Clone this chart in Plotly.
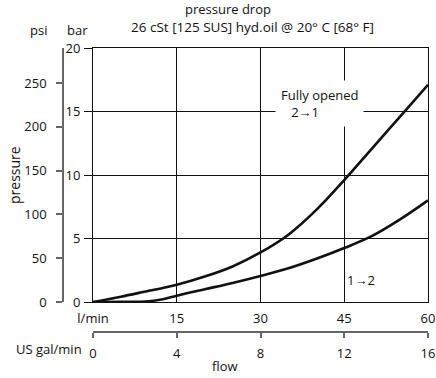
import plotly.graph_objects as go

# ---- data ----
flow_lpm = [0, 5, 10, 12.5, 15, 20, 25, 30, 35, 40, 45, 50, 55, 60]
dp_2to1_bar = [0, 0.42, 0.88, 1.1, 1.35, 2.0, 2.8, 3.9, 5.3, 7.25, 9.6, 12.1, 14.6, 17.1]
dp_1to2_bar = [0, 0.01, 0.06, 0.22, 0.5, 1.0, 1.5, 2.05, 2.65, 3.4, 4.25, 5.2, 6.5, 8.0]

x_ticks_lpm = [0, 15, 30, 45, 60]
x_ticktext_lpm = ["l/min", "15", "30", "45", "60"]
y_ticks_bar = [0, 5, 10, 15, 20]
psi_ticks = [0, 50, 100, 150, 200, 250]
gal_ticks = [0, 4, 8, 12, 16]

W, H = 436, 378
FONT = "Open Sans"
BLACK = "#111111"
GREY = "#666666"


def px(x):
    return x / W


def py(y):
    return 1 - y / H


fig = go.Figure()
fig.add_trace(go.Scatter(x=flow_lpm, y=dp_2to1_bar, mode="lines",
                         line=dict(color=BLACK, width=2.6, shape="spline"),
                         showlegend=False, hoverinfo="skip"))
fig.add_trace(go.Scatter(x=flow_lpm, y=dp_1to2_bar, mode="lines",
                         line=dict(color=BLACK, width=2.6, shape="spline"),
                         showlegend=False, hoverinfo="skip"))
# invisible traces to activate secondary axes
fig.add_trace(go.Scatter(x=[0], y=[0], yaxis="y2", mode="markers",
                         marker=dict(opacity=0), showlegend=False, hoverinfo="skip"))
fig.add_trace(go.Scatter(x=[0], y=[0], xaxis="x2", mode="markers",
                         marker=dict(opacity=0), showlegend=False, hoverinfo="skip"))

fig.update_layout(
    width=W, height=H,
    margin=dict(l=0, r=0, t=0, b=0, pad=0, autoexpand=False),
    paper_bgcolor="white", plot_bgcolor="white",
    font=dict(family=FONT, size=13, color="#111111"),
    xaxis=dict(domain=[px(93), px(428)], range=[0, 60], automargin=False,
               tickvals=x_ticks_lpm, ticktext=x_ticktext_lpm,
               showgrid=True, gridcolor=BLACK, gridwidth=1,
               showline=True, linecolor=BLACK, linewidth=1, mirror=True,
               zeroline=False, ticks="", ticklabelstandoff=4,
               fixedrange=True),
    yaxis=dict(domain=[py(302), py(48)], range=[0, 20], automargin=False,
               tickvals=y_ticks_bar,
               showgrid=True, gridcolor=BLACK, gridwidth=1,
               showline=True, linecolor=BLACK, linewidth=1, mirror=True,
               zeroline=False, ticks="outside", ticklen=8, tickcolor=BLACK,
               ticklabelstandoff=1, fixedrange=True),
    yaxis2=dict(overlaying="y", anchor="free", position=px(63), side="left",
                automargin=False, autoshift=False,
                range=[0, 20 * 14.5038], tickvals=psi_ticks,
                showgrid=False, zeroline=False,
                showline=True, linecolor=GREY, linewidth=1.5,
                ticks="outside", ticklen=6, tickcolor=GREY, tickwidth=1.5,
                ticklabelstandoff=7, fixedrange=True),
    xaxis2=dict(overlaying="x", anchor="free", position=py(332), side="bottom",
                automargin=False,
                domain=[px(93), px(428)], range=[0, 16], tickvals=gal_ticks,
                showgrid=False, zeroline=False,
                showline=True, linecolor=GREY, linewidth=1.5,
                ticks="outside", ticklen=5, tickcolor=GREY, tickwidth=1.5,
                ticklabelstandoff=5, fixedrange=True),
)

ann = [
    dict(text="pressure drop", x=px(228), y=py(9.5)),
    dict(text="26 cSt [125 SUS] hyd.oil @ 20° C [68° F]", x=px(252), y=py(27),
         font=dict(size=13.5)),
    dict(text="psi", x=px(38), y=py(30)),
    dict(text="bar", x=px(77), y=py(30)),
    dict(text="pressure", x=px(14), y=py(175), textangle=-90, font=dict(size=14)),
    dict(text="US gal/min", x=px(49), y=py(349)),
    dict(text="flow", x=px(225), y=py(366)),
    dict(text="D100-1087", x=px(400), y=py(384), font=dict(color=GREY, size=13)),
]
for a in ann:
    a.update(xref="paper", yref="paper", showarrow=False,
             xanchor="center", yanchor="middle")
    fig.add_annotation(**a)

fig.add_annotation(text="Fully opened<br>&nbsp;&nbsp;&nbsp;2→1", x=40.6, y=15.6,
                   xref="x", yref="y", showarrow=False, align="left",
                   bgcolor="white", borderpad=5, xanchor="center", yanchor="middle")
fig.add_annotation(text="1→2", x=48.0, y=1.75, xref="x", yref="y",
                   showarrow=False, xanchor="center", yanchor="middle")

fig.write_html("out.html", config={"displayModeBar": False},
               post_script="document.body.style.margin='0px';document.body.style.overflow='hidden';")
